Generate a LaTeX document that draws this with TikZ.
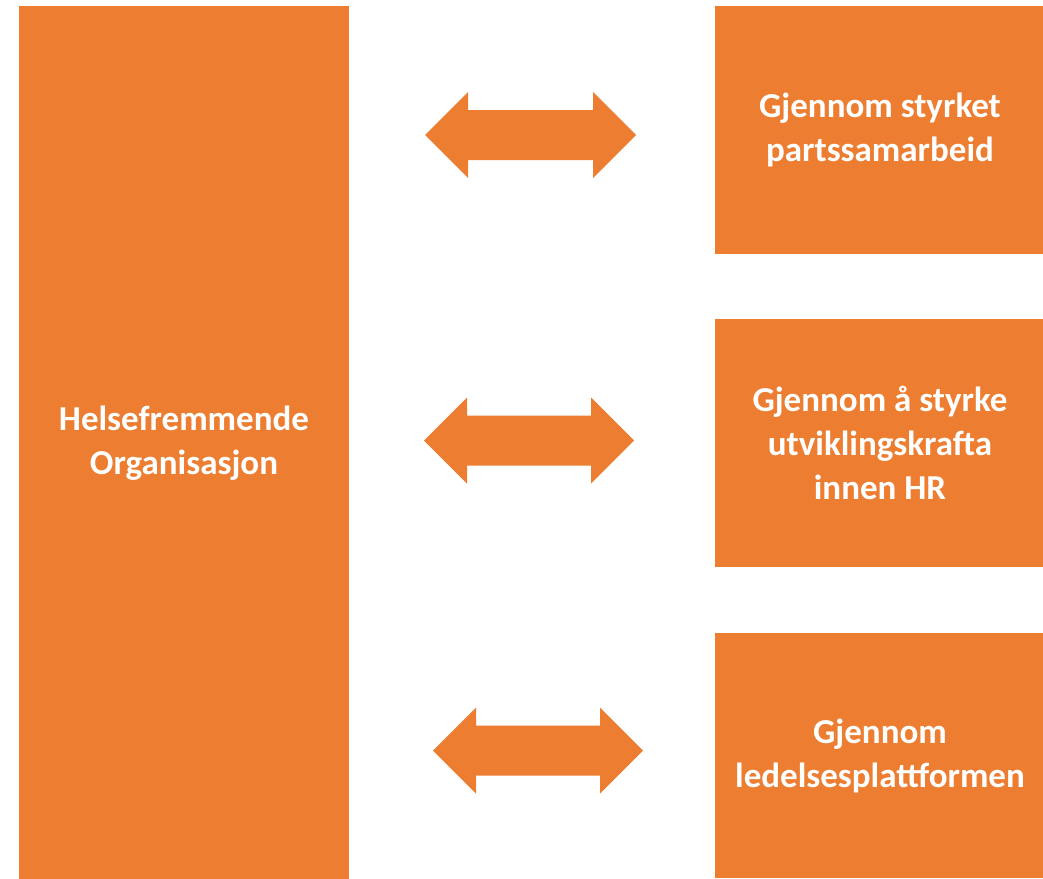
\documentclass[tikz,border=0pt]{standalone}
\usepackage{fontspec}
\setmainfont{Carlito}
\definecolor{office}{HTML}{ED7D31}
\tikzset{
  orangebox/.style={fill=office, draw=none, inner sep=0pt, outer sep=0pt,
    text=white, font=\bfseries\fontsize{35}{44}\selectfont, align=center},
  dblarr/.style={fill=office, draw=none}
}
\newcommand\myDArrow[3]{% left tip x, right tip x, centre y
  \fill[dblarr] (#1,#3) -- (#1+43,#3-43) -- (#1+43,#3-25) -- (#2-43,#3-25) -- (#2-43,#3-43)
    -- (#2,#3) -- (#2-43,#3+43) -- (#2-43,#3+25) -- (#1+43,#3+25) -- (#1+43,#3+43) -- cycle;}
\begin{document}
\begin{tikzpicture}[x=1pt,y=-1pt]
\useasboundingbox (0,0) rectangle (1043,878);
\begin{scope}
\clip (0,0) rectangle (1043,878);
\node[orangebox, minimum width=330, minimum height=874, anchor=north west] (left) at (19,6)
  {Helsefremmende\\Organisasjon};
\node[orangebox, minimum width=330, minimum height=248, anchor=north west] (b1) at (715,6)
  {Gjennom styrket\\partssamarbeid};
\node[orangebox, minimum width=330, minimum height=248, anchor=north west] (b2) at (715,319)
  {Gjennom å styrke\\utviklingskrafta\\innen HR};
\node[orangebox, minimum width=330, minimum height=245, anchor=north west] (b3) at (715,633)
  {Gjennom\\ledelsesplattformen};
\end{scope}
\myDArrow{425}{636}{135}
\myDArrow{424}{634}{440.5}
\myDArrow{433}{643}{750.5}
\end{tikzpicture}
\end{document}
